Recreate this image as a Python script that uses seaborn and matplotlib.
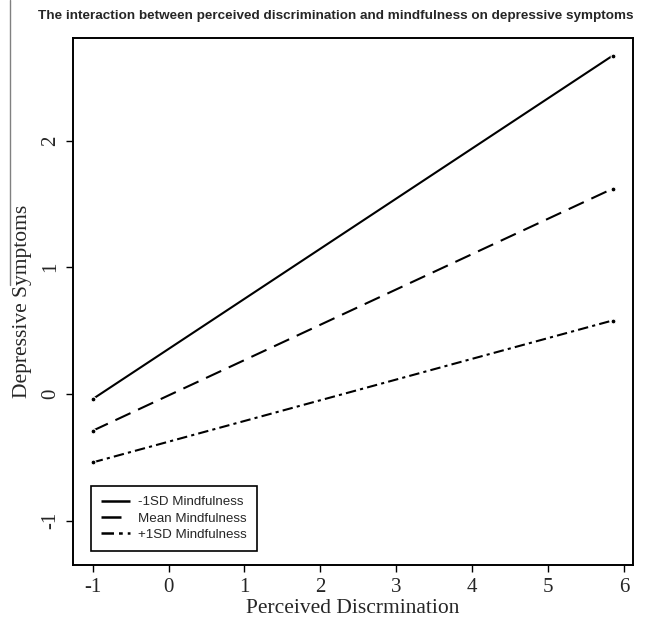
import pandas as pd
import seaborn as sns
import matplotlib.pyplot as plt
from matplotlib.lines import Line2D

# Datos: lineas de pendiente simple
perceived = [-1.0, 5.85]
low_mind = [-0.04, 2.67]
mean_mind = [-0.29, 1.62]
high_mind = [-0.54, 0.58]
labels = ['-1SD Mindfulness', 'Mean Mindfulness', '+1SD Mindfulness']
x_ticks = [-1, 0, 1, 2, 3, 4, 5, 6]
y_ticks = [-1, 0, 1, 2]

sns.set_style('white')
plt.rcParams['font.family'] = ['Liberation Serif', 'DejaVu Serif']

fig = plt.figure(figsize=(6.56, 6.2), dpi=100)
ax = fig.add_axes([73 / 656, 55 / 620, 560 / 656, 527 / 620])

estilos = [(0, ()), (0, (8, 4)), (0, (5, 2, 1.5, 2))]
for serie, etiqueta, estilo in zip([low_mind, mean_mind, high_mind], labels, estilos):
    df = pd.DataFrame({'x': perceived, 'y': serie})
    sns.lineplot(data=df, x='x', y='y', ax=ax, color='black', linewidth=1.5,
                 linestyle=estilo, marker='o', markersize=3.5, label=etiqueta)

ax.set_xlim(-1.26, 6.12)
ax.set_ylim(-1.35, 2.81)
ax.set_xticks(x_ticks)
ax.set_yticks(y_ticks)
ax.set_xticklabels([str(t) for t in x_ticks], fontsize=15)
ax.set_yticklabels([str(t) for t in y_ticks], fontsize=15, rotation=90, va='center')
ax.tick_params(axis='both', direction='out', length=5, width=1, color='black',
               bottom=True, left=True, pad=4)
for lado in ax.spines.values():
    lado.set_color('black')
    lado.set_linewidth(1.4)

ax.set_xlabel('Perceived Discrmination', fontsize=15.5, labelpad=2)
ax.set_ylabel('Depressive Symptoms', fontsize=15.5, labelpad=7)

ax.set_title('The interaction between perceived discrimination and mindfulness on depressive symptoms',
             fontsize=9.7, fontweight='bold', family=['Liberation Sans', 'DejaVu Sans'],
             loc='right', pad=14)

handles = [Line2D([], [], color='black', linewidth=1.8, linestyle=e) for e in estilos]
leg = ax.legend(handles, labels, loc='lower left', bbox_to_anchor=(0.02, 0.014),
                frameon=True, fancybox=False, edgecolor='black', framealpha=1,
                prop={'family': ['Liberation Sans', 'DejaVu Sans'], 'size': 9.6},
                handlelength=2.2, labelspacing=0.3, borderpad=0.75, handletextpad=0.6)
leg.get_frame().set_linewidth(1.2)

# linea gris vertical del escaneo original
fig.add_artist(Line2D([10 / 656, 10 / 656], [1.0, 1 - 285 / 620], color='gray', linewidth=1))

plt.savefig('out.png', dpi=100)
plt.close()
